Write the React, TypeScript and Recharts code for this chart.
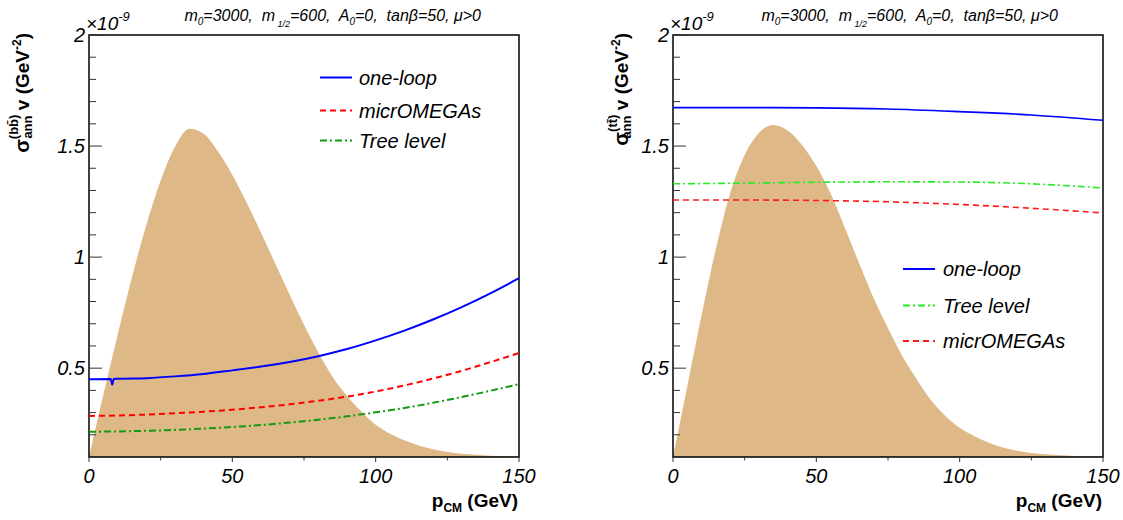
import React from 'react';
import { ComposedChart, Area, Line, XAxis, YAxis, ReferenceArea, Legend } from 'recharts';

// momentum grid for the thermal distribution (GeV)
const pFill = [0, 5, 10, 15, 20, 25, 30, 35, 40, 45, 50, 55, 60, 65, 70, 75, 80, 85, 90, 95, 100, 105, 110, 115, 120, 125, 130, 135, 140, 145, 150];
const bbFill = [0.1, 0.38, 0.65, 0.91, 1.145, 1.345, 1.497, 1.578, 1.555, 1.475, 1.37, 1.245, 1.11, 0.97, 0.83, 0.695, 0.57, 0.46, 0.375, 0.305, 0.245, 0.205, 0.175, 0.152, 0.135, 0.123, 0.115, 0.11, 0.106, 0.104, 0.102];
const ttFill = [0.1, 0.42, 0.74, 1.04, 1.29, 1.46, 1.56, 1.595, 1.57, 1.505, 1.41, 1.285, 1.13, 0.97, 0.815, 0.68, 0.555, 0.45, 0.355, 0.285, 0.232, 0.195, 0.165, 0.143, 0.128, 0.118, 0.112, 0.108, 0.105, 0.103, 0.102];

// b bbar channel (units of 1e-9 GeV^-2)
const bbLoopP = [0, 7.6, 8.1, 8.6, 10, 20, 30, 40, 50, 60, 70, 80, 90, 100, 110, 120, 130, 140, 150];
const bbOneLoop = [0.45, 0.451, 0.426, 0.451, 0.452, 0.455, 0.463, 0.474, 0.49, 0.507, 0.528, 0.554, 0.586, 0.625, 0.669, 0.719, 0.775, 0.837, 0.905];
const bbP = [0, 10, 20, 30, 40, 50, 60, 70, 80, 90, 100, 110, 120, 130, 140, 150];
const bbMicro = [0.285, 0.287, 0.291, 0.297, 0.304, 0.313, 0.324, 0.337, 0.353, 0.372, 0.395, 0.422, 0.453, 0.488, 0.527, 0.568];
const bbTree = [0.214, 0.215, 0.218, 0.222, 0.228, 0.235, 0.244, 0.255, 0.268, 0.283, 0.301, 0.321, 0.344, 0.37, 0.398, 0.428];

// t tbar channel
const ttP = [0, 25, 50, 75, 100, 125, 150];
const ttOneLoop = [1.673, 1.673, 1.672, 1.667, 1.655, 1.64, 1.616];
const ttTree = [1.33, 1.333, 1.337, 1.339, 1.338, 1.33, 1.311];
const ttMicro = [1.257, 1.257, 1.255, 1.249, 1.237, 1.22, 1.199];

const xTicks = [0, 25, 50, 75, 100, 125, 150];
const xMajor = [0, 50, 100, 150];
const xTickLabels = ['0', '50', '100', '150'];
const yTicks = [0.2, 0.3, 0.4, 0.5, 0.6, 0.7, 0.8, 0.9, 1, 1.1, 1.2, 1.3, 1.4, 1.5, 1.6, 1.7, 1.8, 1.9, 2];
const yMajor = [0.5, 1, 1.5, 2];
const yTickLabels = ['0.5', '1', '1.5', '2'];

const bbLegendOrder = ['one-loop', 'micrOMEGAs', 'Tree level'];
const ttLegendOrder = ['one-loop', 'Tree level', 'micrOMEGAs'];

const FONT = '"Liberation Sans", Arial, Helvetica, sans-serif';

const rows = (xs: number[], ys: number[]) => xs.map((p, i) => ({ p, v: ys[i] }));
const idx = (list: number[], v: number) => list.findIndex((t) => Math.abs(t - v) < 1e-6);

const YTick = (props: any) => {
  const { x, y, payload } = props;
  const i = idx(yMajor, payload.value);
  return (
    <g>
      <line x1={x} x2={x + (i >= 0 ? 13 : 7)} y1={y} y2={y} stroke="#333" strokeWidth={1} />
      {i >= 0 && (
        <text x={x - 4} y={y} dy="0.36em" textAnchor="end" fontFamily={FONT} fontStyle="italic" fontSize={20} fill="#000">
          {yTickLabels[i]}
        </text>
      )}
    </g>
  );
};

const XTick = (props: any) => {
  const { x, y, payload } = props;
  const i = idx(xMajor, payload.value);
  return (
    <g>
      <line x1={x} x2={x} y1={y} y2={y + (i >= 0 ? 5 : 3.5)} stroke="#333" strokeWidth={1} />
      {i >= 0 && (
        <text x={x} y={y + 26} textAnchor="middle" fontFamily={FONT} fontStyle="italic" fontSize={20} fill="#000">
          {xTickLabels[i]}
        </text>
      )}
    </g>
  );
};

const makeLegend = (order: string[], rowsY: number[], lineX: number, textX: number) => (props: any) => {
  const items = (props.payload || [])
    .filter((e: any) => e.type !== 'none')
    .sort((a: any, b: any) => order.indexOf(a.value) - order.indexOf(b.value));
  return (
    <svg width={220} height={120} style={{ overflow: 'visible' }}>
      {items.map((e: any, i: number) => (
        <g key={e.value}>
          <line
            x1={lineX}
            x2={lineX + 32}
            y1={rowsY[i]}
            y2={rowsY[i]}
            stroke={e.color}
            strokeWidth={2}
            strokeDasharray={e.payload?.strokeDasharray}
          />
          <text x={textX} y={rowsY[i]} dy="0.36em" fontFamily={FONT} fontStyle="italic" fontSize={20} fill="#000">
            {e.value}
          </text>
        </g>
      ))}
    </svg>
  );
};

const axes = (
  <>
    <XAxis
      dataKey="p"
      type="number"
      domain={[0, 150]}
      ticks={xTicks}
      interval={0}
      height={63}
      axisLine={false}
      tickLine={false}
      tickSize={0}
      tickMargin={0}
      tick={<XTick />}
    />
    <YAxis
      type="number"
      domain={[0.1, 2]}
      allowDataOverflow
      ticks={yTicks}
      interval={0}
      width={85}
      axisLine={false}
      tickLine={false}
      tickSize={0}
      tickMargin={0}
      tick={<YTick />}
    />
  </>
);

function BBPanel() {
  return (
    <ComposedChart width={561} height={520} margin={{ top: 35, right: 42, bottom: 0, left: 4 }}>
      {axes}
      <Area data={rows(pFill, bbFill)} dataKey="v" type="monotone" fill="#deb887" fillOpacity={1} stroke="none" legendType="none" isAnimationActive={false} />
      <Line data={rows(bbLoopP, bbOneLoop)} dataKey="v" name="one-loop" type="monotone" stroke="#0000ff" strokeWidth={2} dot={false} isAnimationActive={false} />
      <Line data={rows(bbP, bbMicro)} dataKey="v" name="micrOMEGAs" type="monotone" stroke="#ff0000" strokeWidth={2} strokeDasharray="6 4" dot={false} isAnimationActive={false} />
      <Line data={rows(bbP, bbTree)} dataKey="v" name="Tree level" type="monotone" stroke="#139a13" strokeWidth={2} strokeDasharray="7 3 2 3" dot={false} isAnimationActive={false} />
      <ReferenceArea x1={0} x2={150} y1={0.1} y2={2} fill="none" stroke="#000" strokeWidth={1.5} ifOverflow="visible" />
      <Legend
        layout="horizontal"
        verticalAlign="middle"
        align="center"
        content={makeLegend(bbLegendOrder, [27.5, 60.5, 90.5], 20, 59)}
        wrapperStyle={{ position: 'absolute', left: 300, top: 50, width: 220, height: 120 }}
      />
    </ComposedChart>
  );
}

function TTPanel() {
  return (
    <ComposedChart width={562} height={520} margin={{ top: 35, right: 20, bottom: 0, left: 27 }}>
      {axes}
      <Area data={rows(pFill, ttFill)} dataKey="v" type="monotone" fill="#deb887" fillOpacity={1} stroke="none" legendType="none" isAnimationActive={false} />
      <Line data={rows(ttP, ttOneLoop)} dataKey="v" name="one-loop" type="monotone" stroke="#0000ff" strokeWidth={1.6} dot={false} isAnimationActive={false} />
      <Line data={rows(ttP, ttTree)} dataKey="v" name="Tree level" type="monotone" stroke="#22ee22" strokeWidth={1.6} strokeDasharray="7 3 2 3" dot={false} isAnimationActive={false} />
      <Line data={rows(ttP, ttMicro)} dataKey="v" name="micrOMEGAs" type="monotone" stroke="#ff1a1a" strokeWidth={1.6} strokeDasharray="6 4" dot={false} isAnimationActive={false} />
      <ReferenceArea x1={0} x2={150} y1={0.1} y2={2} fill="none" stroke="#000" strokeWidth={1.5} ifOverflow="visible" />
      <Legend
        layout="horizontal"
        verticalAlign="middle"
        align="center"
        content={makeLegend(ttLegendOrder, [29, 65.5, 101], 23, 63)}
        wrapperStyle={{ position: 'absolute', left: 319, top: 240, width: 220, height: 120 }}
      />
    </ComposedChart>
  );
}

function Params({ x }: { x: number }) {
  return (
    <text x={x} y={21} textAnchor="end" fontFamily={FONT} fontStyle="italic" fontSize={16} style={{ whiteSpace: 'pre' }}>
      m<tspan fontSize={10} dy={4}>0</tspan>
      <tspan dy={-4}>=3000,  m</tspan>
      <tspan fontSize={9} dy={6}> 1/2</tspan>
      <tspan dy={-6}>=600,  A</tspan>
      <tspan fontSize={10} dy={4}>0</tspan>
      <tspan dy={-4}>=0,  tanβ=50, μ&gt;0</tspan>
    </text>
  );
}

function YTitle({ x, q }: { x: number; q: string }) {
  return (
    <text transform={`translate(${x},33) rotate(-90)`} textAnchor="end" fontFamily={FONT} fontWeight="bold" fontSize={19}>
      <tspan fontSize={20}>σ</tspan>
      <tspan fontSize={13} dy={-11}>{`(${q}${q}\u0304)`}</tspan>
      <tspan fontSize={13} dx={-24} dy={14}>ann</tspan>
      <tspan dy={-3}> v (GeV</tspan>
      <tspan fontSize={12} dy={-8}>-2</tspan>
      <tspan dy={8}>)</tspan>
    </text>
  );
}

function Overlay() {
  return (
    <svg width={1123} height={520} style={{ position: 'absolute', left: 0, top: 0, pointerEvents: 'none' }}>
      <Params x={481} />
      <Params x={1058} />
      {[86, 670].map((x) => (
        <text key={x} x={x} y={30} fontFamily={FONT} fontStyle="italic" fontSize={19}>
          ×10<tspan fontSize={13} dy={-9}>-9</tspan>
        </text>
      ))}
      {[518, 1102].map((x) => (
        <text key={x} x={x} y={507} textAnchor="end" fontFamily={FONT} fontWeight="bold" fontSize={19}>
          p<tspan fontSize={12} dy={5}>CM</tspan>
          <tspan dy={-5}> (GeV)</tspan>
        </text>
      ))}
      <YTitle x={29} q="b" />
      <YTitle x={628} q="t" />
    </svg>
  );
}

export default function App() {
  return (
    <div style={{ position: 'absolute', left: 0, top: 0, width: 1123, height: 520, background: '#fff', fontFamily: FONT }}>
      <div style={{ position: 'absolute', left: 0, top: 0 }}>
        <BBPanel />
      </div>
      <div style={{ position: 'absolute', left: 561, top: 0 }}>
        <TTPanel />
      </div>
      <Overlay />
    </div>
  );
}
